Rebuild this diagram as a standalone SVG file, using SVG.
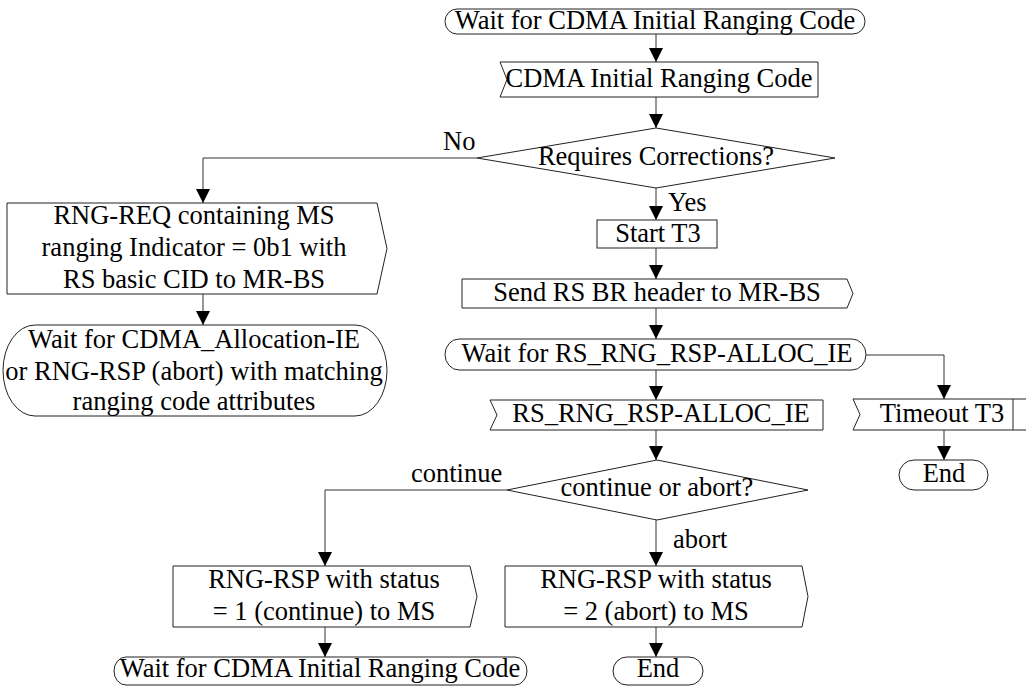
<svg xmlns="http://www.w3.org/2000/svg" width="1026" height="688" viewBox="0 0 1026 688">
<defs>
<marker id="arr" markerUnits="userSpaceOnUse" markerWidth="15" markerHeight="15" refX="14" refY="7" orient="auto">
<path d="M0,0 L14,7 L0,14 Z" fill="#000"/>
</marker>
<style>
.s{fill:#fff;stroke:#222;stroke-width:1}
.c{fill:none;stroke:#333;stroke-width:1}
text{font-family:"Liberation Serif","Times New Roman",serif;font-size:26.5px;fill:#000}
.m{text-anchor:middle}
</style>
</defs>
<rect width="1026" height="688" fill="#fff"/>
<g id="connectors">
<path class="c" d="M656,34 V62" marker-end="url(#arr)"/>
<path class="c" d="M656,97 V128" marker-end="url(#arr)"/>
<path class="c" d="M477,158 H203 V203" marker-end="url(#arr)"/>
<path class="c" d="M203,294 V325" marker-end="url(#arr)"/>
<path class="c" d="M656,188 V220" marker-end="url(#arr)"/>
<path class="c" d="M656,248 V279" marker-end="url(#arr)"/>
<path class="c" d="M656,308 V339" marker-end="url(#arr)"/>
<path class="c" d="M656,370 V400" marker-end="url(#arr)"/>
<path class="c" d="M866,355 H944 V399" marker-end="url(#arr)"/>
<path class="c" d="M944,430 V460" marker-end="url(#arr)"/>
<path class="c" d="M656,430 V460" marker-end="url(#arr)"/>
<path class="c" d="M507,490 H325 V566" marker-end="url(#arr)"/>
<path class="c" d="M656,520 V566" marker-end="url(#arr)"/>
<path class="c" d="M325,627 V657" marker-end="url(#arr)"/>
<path class="c" d="M656,627 V657" marker-end="url(#arr)"/>
<text x="443" y="150">No</text>
<text x="668" y="211">Yes</text>
<text x="411" y="482">continue</text>
<text x="673" y="548">abort</text>
</g>
<g id="wait-top">
<rect class="s" x="445" y="9" width="420" height="25" rx="12" ry="12.5"/>
<text class="m" x="655" y="29">Wait for CDMA Initial Ranging Code</text>
</g>
<g id="cdma-code">
<polygon class="s" points="500,62 818,62 818,97 500,97 507,79.5"/>
<text class="m" x="659" y="87">CDMA Initial Ranging Code</text>
</g>
<g id="requires-corrections">
<polygon class="s" points="656,128 835,158 656,188 477,158"/>
<text class="m" x="656" y="165">Requires Corrections?</text>
</g>
<g id="rng-req">
<polygon class="s" points="7,203 377,203 387,248.5 377,294 7,294"/>
<text class="m" x="194" y="224">RNG-REQ containing MS</text>
<text class="m" x="194" y="256">ranging Indicator = 0b1 with</text>
<text class="m" x="194" y="288">RS basic CID to MR-BS</text>
</g>
<g id="wait-alloc">
<rect class="s" x="3" y="325" width="384" height="91" rx="32" ry="45.5"/>
<text class="m" x="194" y="348">Wait for CDMA_Allocation-IE</text>
<text class="m" x="194" y="380">or RNG-RSP (abort) with matching</text>
<text class="m" x="194" y="410">ranging code attributes</text>
</g>
<g id="start-t3">
<rect class="s" x="597" y="220" width="120" height="28"/>
<text class="m" x="658" y="242">Start T3</text>
</g>
<g id="send-br">
<polygon class="s" points="462,279 847,279 853,293.5 847,308 462,308"/>
<text class="m" x="657" y="301">Send RS BR header to MR-BS</text>
</g>
<g id="wait-rs">
<rect class="s" x="445" y="339" width="421" height="31" rx="14" ry="15.5"/>
<text class="m" x="657" y="362">Wait for RS_RNG_RSP-ALLOC_IE</text>
</g>
<g id="rs-alloc">
<polygon class="s" points="490,400 823,400 823,430 490,430 497,415"/>
<text class="m" x="661" y="422">RS_RNG_RSP-ALLOC_IE</text>
</g>
<g id="timeout-t3">
<polygon class="s" points="853,399 1030,399 1030,430 853,430 860,414.5"/>
<line class="s" x1="1013" y1="399" x2="1013" y2="430"/>
<text class="m" x="942" y="422">Timeout T3</text>
</g>
<g id="end-right">
<rect class="s" x="899" y="460" width="89" height="30" rx="15" ry="15"/>
<text class="m" x="944" y="482">End</text>
</g>
<g id="continue-or-abort">
<polygon class="s" points="657,460 808,490 657,520 507,490"/>
<text class="m" x="657" y="496">continue or abort?</text>
</g>
<g id="rsp-continue">
<polygon class="s" points="173,566 470,566 477,596.5 470,627 173,627"/>
<text class="m" x="324" y="588">RNG-RSP with status</text>
<text class="m" x="324" y="620">= 1 (continue) to MS</text>
</g>
<g id="rsp-abort">
<polygon class="s" points="505,566 802,566 808,596.5 802,627 505,627"/>
<text class="m" x="656" y="588">RNG-RSP with status</text>
<text class="m" x="656" y="620">= 2 (abort) to MS</text>
</g>
<g id="wait-bottom">
<rect class="s" x="114" y="657" width="413" height="28" rx="12" ry="14"/>
<text class="m" x="320" y="677">Wait for CDMA Initial Ranging Code</text>
</g>
<g id="end-bottom">
<rect class="s" x="613" y="657" width="90" height="28" rx="14" ry="14"/>
<text class="m" x="658" y="677">End</text>
</g>
</svg>
